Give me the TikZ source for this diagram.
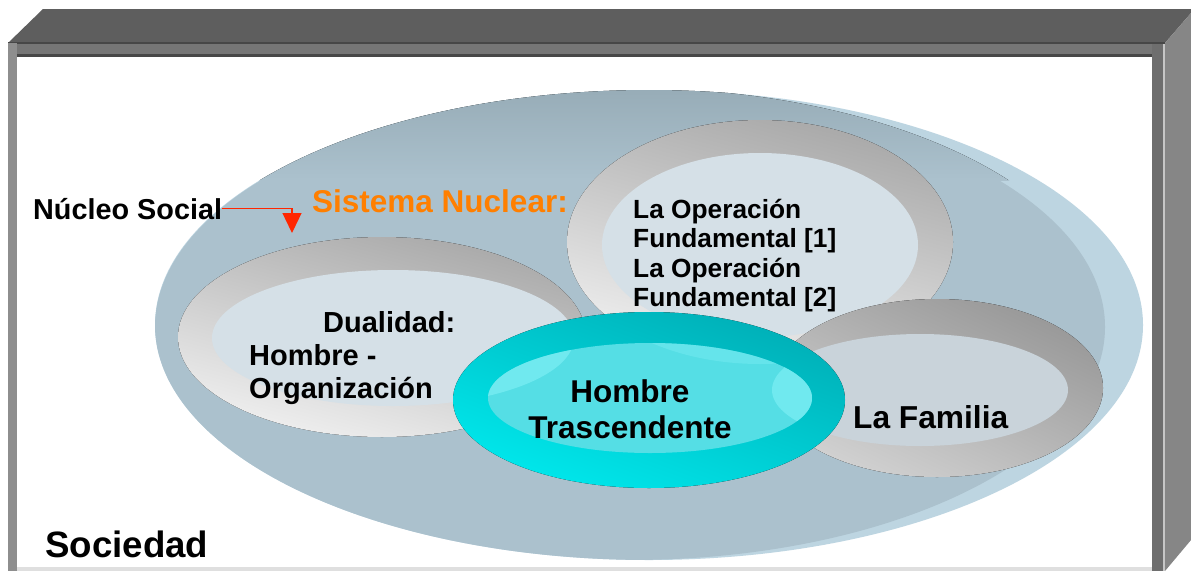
\documentclass[tikz,border=0pt]{standalone}
\usepackage{fontspec}
\setmainfont{Liberation Sans}
\usepackage{xcolor}
\usetikzlibrary{arrows.meta, positioning}

\definecolor{marcotop}{HTML}{5E5E5E}
\definecolor{marcofront}{HTML}{767676}
\definecolor{marcoline}{HTML}{474747}
\definecolor{marcoleft}{HTML}{8E8E8E}
\definecolor{marcoright}{HTML}{868686}
\definecolor{marcopost}{HTML}{6E6E6E}
\definecolor{sociedad}{HTML}{ABC1CD}
\definecolor{sociedadtop}{HTML}{97ACB7}
\definecolor{sociedadrim}{HTML}{BDD5E1}
\definecolor{arodark}{HTML}{A8A8A8}
\definecolor{arolight}{HTML}{F0F0F0}
\definecolor{arodarkF}{HTML}{989898}
\definecolor{arolightF}{HTML}{D2D2D2}
\definecolor{cara}{HTML}{D5E0E7}
\definecolor{caraF}{HTML}{C9D3DA}
\definecolor{cyantop}{HTML}{00AFB7}
\definecolor{cyanlight}{HTML}{00E8EC}
\definecolor{cyancara}{HTML}{55DEE5}
\definecolor{cyanpatch}{HTML}{70E9EF}
\definecolor{naranja}{HTML}{FF7F00}
\definecolor{rojo}{HTML}{FF2600}

\begin{document}
\begin{tikzpicture}[x=1pt, y=-1pt, >={Triangle[length=20pt, width=19pt]},
    txt/.style={inner sep=0pt, text=black},
    aro/.style={top color=arodark, bottom color=arolight, shading angle=-15},
    aroF/.style={top color=arodarkF, bottom color=arolightF, shading angle=-25},
    aroC/.style={top color=cyantop, bottom color=cyanlight, shading angle=-20},
    flecha/.style={->, rojo, line width=1.3pt}]

    % marco
    \useasboundingbox (0,0) rectangle (1191,571);
    \fill[white] (0,0) rectangle (1191,571);
    \fill[marcotop] (43,9) -- (1191,9) -- (1191,13) -- (1165,43) -- (8,43) -- cycle;
    \fill[marcoright] (1165,43) -- (1191,13) -- (1191,540) -- (1165,571) -- cycle;
    \fill[marcopost] (1152,43) rectangle (1163,571);
    \fill[gray!45] (1163,43) rectangle (1165,571);
    \fill[marcofront] (8,43) rectangle (1152,56);
    \fill[marcoline] (8,54) rectangle (1152,57);
    \fill[marcoline] (8,42) rectangle (1165,44);
    \fill[marcoleft] (8,43) rectangle (17,571);
    \fill[gray!25] (17,567) rectangle (1152,571);

    % disco Sociedad
    \coordinate (socout) at (649,325);
    \coordinate (socin) at (630,327);
    \fill[sociedadrim] (socout) ellipse [x radius=494pt, y radius=235pt];
    \begin{scope}
        \clip (socout) ellipse [x radius=494pt, y radius=235pt];
        \fill[sociedad] (socin) ellipse [x radius=475pt, y radius=233pt];
        \clip (630,321) ellipse [x radius=475pt, y radius=233pt];
        \fill[top color=sociedadtop, bottom color=sociedad] (150,88) rectangle (1150,180);
    \end{scope}

    % aros
    \coordinate (duaout) at (382,337);
    \coordinate (duain) at (393,338);
    \fill[aro] (duaout) ellipse [x radius=204pt, y radius=100pt];
    \fill[cara] (duain) ellipse [x radius=181pt, y radius=68pt];

    \coordinate (opout) at (760,242);
    \coordinate (opin) at (760,245);
    \fill[aro] (opout) ellipse [x radius=193pt, y radius=122pt];
    \fill[cara] (opin) ellipse [x radius=158pt, y radius=92pt];

    \coordinate (famout) at (937,388);
    \coordinate (famin) at (920,390);
    \fill[aroF] (famout) ellipse [x radius=166pt, y radius=89pt];
    \fill[caraF] (famin) ellipse [x radius=148pt, y radius=56pt];

    \coordinate (homout) at (649,400);
    \coordinate (homin) at (650,398);
    \fill[aroC] (homout) ellipse [x radius=196pt, y radius=88pt];
    \fill[cyancara] (homin) ellipse [x radius=162pt, y radius=55pt];
    \begin{scope}
        \clip (homin) ellipse [x radius=162pt, y radius=55pt];
        \fill[cyanpatch] (duain) ellipse [x radius=181pt, y radius=68pt];
        \fill[cyanpatch] (famin) ellipse [x radius=148pt, y radius=56pt];
        \fill[cyanpatch, opacity=.6] (opout) ellipse [x radius=193pt, y radius=122pt];
    \end{scope}

    % textos (en nodos de varias lineas, base = ultima linea)
    \node[txt, anchor=base west, font=\fontsize{28.8}{33}\selectfont\bfseries] (nucleo) at (33,219) {Núcleo Social};
    \coordinate (nucleotip) at (292,233);
    \draw[flecha] (nucleo.east) -| (nucleotip);
    \node[txt, anchor=base west, text=naranja, font=\fontsize{31.5}{36}\selectfont\bfseries] (sistema) at (312,212) {Sistema Nuclear:};
    \node[txt, anchor=base west, align=left, font=\fontsize{26.3}{29.5}\selectfont\bfseries] (operacion) at (633,306.5)
        {La Operación\\Fundamental [1]\\La Operación\\Fundamental [2]};
    \node[txt, anchor=base west, align=left, font=\fontsize{29}{33}\selectfont\bfseries] (dualidad) at (249,398)
        {\hspace*{74pt}Dualidad:\\Hombre -\\Organización};
    \node[txt, anchor=base, align=center, font=\fontsize{31.5}{36}\selectfont\bfseries] (hombre) at (630,438)
        {Hombre\\Trascendente};
    \node[txt, anchor=base west, font=\fontsize{31.7}{36}\selectfont\bfseries] (familia) at (853,428) {La Familia};
    \node[txt, anchor=base west, font=\fontsize{36.7}{42}\selectfont\bfseries] (sociedadlbl) at (45,557) {Sociedad};
\end{tikzpicture}
\end{document}
